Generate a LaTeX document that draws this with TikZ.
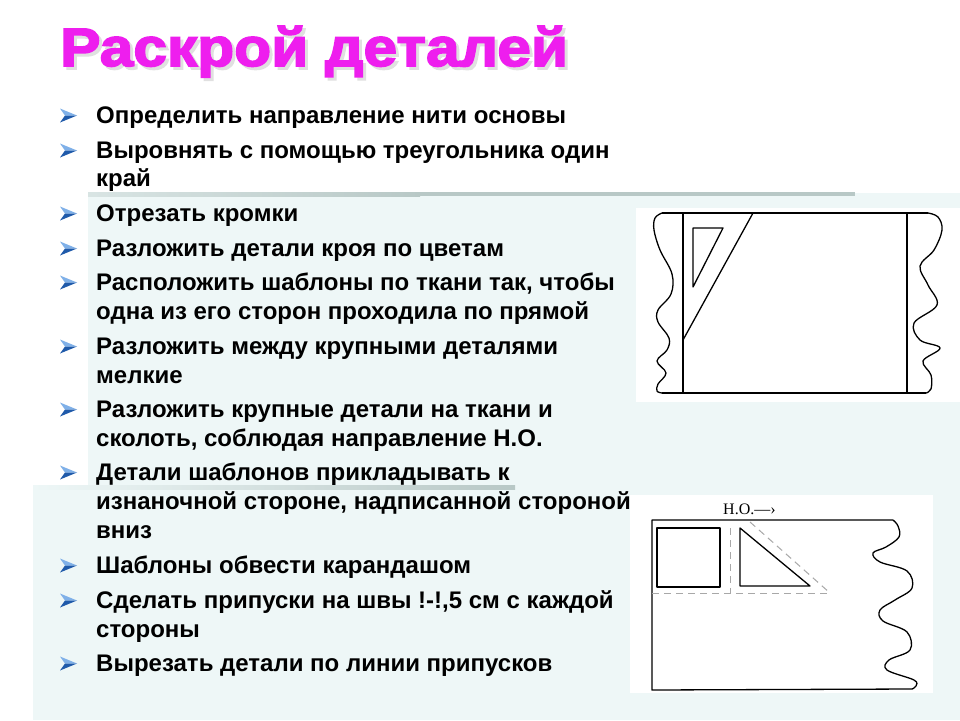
\documentclass[tikz,border=0pt]{standalone}
\usepackage{fontspec}
\setmainfont{Liberation Sans}
\newfontfamily\titlefont[FakeBold=3,FakeStretch=1.12]{Liberation Sans Bold}
\newfontfamily\serifont{Liberation Serif}
\definecolor{panelc}{HTML}{EEF7F7}
\definecolor{barc}{HTML}{B8C8C6}
\definecolor{titlec}{HTML}{EE1EEE}
\definecolor{shadowc}{HTML}{E0E0E0}
\definecolor{blight}{HTML}{7FB0E8}
\definecolor{bdark}{HTML}{1F5AAA}
\definecolor{dashc}{HTML}{A8A8A8}
\tikzset{
  txt/.style={font=\bfseries\fontsize{24}{28}\selectfont, inner sep=0pt, anchor=base west, text=black},
  bulletarrow/.pic={
    \fill[blight] (0,-7) -- (17,0) -- (5,0) -- cycle;
    \fill[bdark] (0,7) -- (17,0) -- (5,0) -- cycle;
  },
  fig/.style={line width=1.3pt, black, line join=round},
  dsh/.style={dashc, line width=1pt, dash pattern=on 7pt off 5pt},
}
\begin{document}
\begin{tikzpicture}[x=1pt,y=-1pt]
\useasboundingbox (0,0) rectangle (960,720);
\fill[white] (0,0) rectangle (960,720);
% panels
\fill[panelc] (88,193) rectangle (960,720);
\fill[panelc] (33,486) rectangle (960,720);
\shade[left color=panelc!60!barc, right color=barc] (88,192) rectangle (420,196);
\fill[barc] (419,192) rectangle (855,196);
\shade[left color=panelc, right color=barc] (33,485) rectangle (515,489);
% title
\node[inner sep=0pt, anchor=base west, text=titlec, font=\titlefont\fontsize{54}{60}\selectfont] (title) at (60,66)
  {\makebox[0pt][l]{\hspace{3pt}\raisebox{-3pt}{\textcolor{shadowc}{Раскрой деталей}}}Раскрой деталей};
% bullets
\foreach \y in {123,158,221,256,290,354,417,480,573,608,671}{
  \pic at (60,\y-7.5) {bulletarrow};
}
\node[txt] (t1) at (96,123) {Определить направление нити основы};
\node[txt] (t2a) at (96,158) {Выровнять с помощью треугольника один};
\node[txt] (t2b) at (96,186) {край};
\node[txt] (t3) at (96,221) {Отрезать кромки};
\node[txt] (t4) at (96,256) {Разложить детали кроя по цветам};
\node[txt] (t5a) at (96,290) {Расположить шаблоны по ткани так, чтобы};
\node[txt] (t5b) at (96,319) {одна из его сторон проходила по прямой};
\node[txt] (t6a) at (96,354) {Разложить между крупными деталями};
\node[txt] (t6b) at (96,383) {мелкие};
\node[txt] (t7a) at (96,417) {Разложить крупные детали на ткани и};
\node[txt] (t7b) at (96,446) {сколоть, соблюдая направление Н.О.};
\node[txt] (t8a) at (96,480) {Детали шаблонов прикладывать к};
\node[txt] (t8b) at (96,509) {изнаночной стороне, надписанной стороной};
\node[txt] (t8c) at (96,538) {вниз};
\node[txt] (t9) at (96,573) {Шаблоны обвести карандашом};
\node[txt] (t10a) at (96,608) {Сделать припуски на швы !-!,5 см с каждой};
\node[txt] (t10b) at (96,637) {стороны};
\node[txt] (t11) at (96,671) {Вырезать детали по линии припусков};
% figure 1
\fill[white] (636,208) rectangle (960,402);
\draw[fig] (662,213) -- (928,213);
\draw[fig] (662,393) -- (926,393);
\draw[fig] (683,213) -- (683,393);
\draw[fig] (907,213) -- (907,393);
\draw[fig] plot[smooth, tension=0.6] coordinates {(662,213) (655,218) (654,230) (660,250) (672,274) (671,294) (658,310) (658,322) (669,338) (667,350) (657,361) (666,373) (658,384) (657,391) (662,393)};
\draw[fig] plot[smooth, tension=0.6] coordinates {(928,213) (938,217) (942,230) (934,250) (920,266) (928,285) (937,305) (914,323) (920,340) (940,348) (923,361) (931,375) (931,389) (926,393)};
\draw[fig] (683,340) -- (753,213);
\draw[fig] (693,228) -- (723,228) -- (693,287) -- cycle;
% figure 2
\fill[white] (630,495) rectangle (933,693);
\node[inner sep=0pt, anchor=base west, font=\serifont\fontsize{16}{18}\selectfont] (ho) at (723,514) {Н.О.—›};
\draw[fig] (893,520) -- (652,520) -- (652,690) -- (912,689);
\draw[fig] plot[smooth, tension=0.6] coordinates {(893,520) (898,526) (899,537) (886,547) (873,553) (880,562) (907,571) (912,588) (895,600) (880,610) (883,621) (907,632) (910,650) (889,660) (887,670) (914,680) (916,686) (912,689)};
\draw[fig] (657,528) rectangle (720,587);
\draw[fig] (740,528) -- (740,586) -- (810,586) -- cycle;
\draw[dsh] (730,528) -- (730,593);
\draw[dsh] (652,593) -- (830,593);
\draw[dsh] (750,522) -- (830,593);
\end{tikzpicture}
\end{document}
